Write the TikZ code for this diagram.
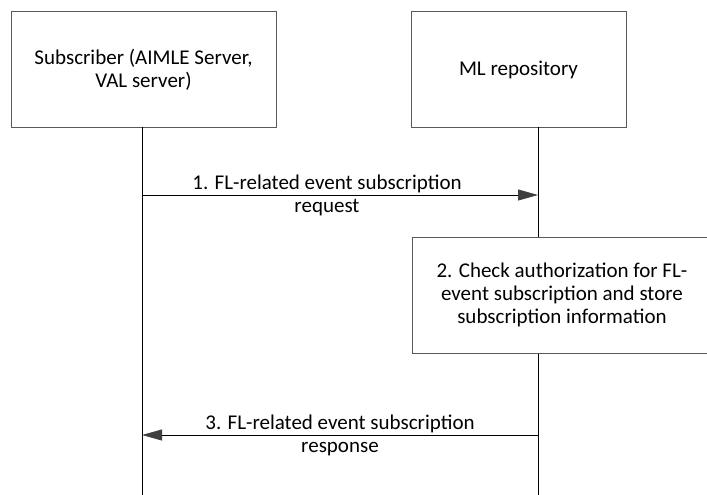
\documentclass[tikz,border=0pt]{standalone}
\usepackage{fontspec}
\setmainfont{Carlito}
\usetikzlibrary{arrows.meta}
\definecolor{boxgray}{RGB}{90,90,90}
\definecolor{headgray}{RGB}{64,64,64}
\tikzset{
  entity/.style={draw=boxgray, line width=1pt, align=center, inner sep=0pt},
  lifeline/.style={draw=black, line width=0.8pt},
  msg/.style={draw=black, line width=0.8pt, -{Triangle[length=20pt,width=11pt,color=headgray]}},
  msglabel/.style={align=center, inner sep=0pt}
}
\begin{document}
\begin{tikzpicture}[x=1pt, y=-1pt, font=\fontsize{21}{23}\selectfont]
  \clip (0,0) rectangle (707,495);
  \node[entity, minimum width=265pt, minimum height=115pt] (subscriber) at (143.5,69.5) {Subscriber (AIMLE Server,\\VAL server)};
  \node[entity, minimum width=215pt, minimum height=115pt] (mlrepo) at (518.5,69.5) {ML repository};
  \node[entity, minimum width=300pt, minimum height=116pt] (check) at (562,295) {2. Check authorization for FL-\\event subscription and store\\subscription information};
  % lifelines
  \coordinate (subtop) at (142,127);
  \coordinate (subbot) at (142,495);
  \coordinate (repotop) at (538,127);
  \coordinate (repobot) at (538,495);
  \draw[lifeline] (subtop) -- (subbot);
  \draw[lifeline] (repotop) -- (check.north -| repotop);
  \draw[lifeline] (check.south -| repotop) -- (repobot);
  % messages
  \coordinate (req1) at (142,195); % subscriber side
  \coordinate (req2) at (538,195); % repository side
  \coordinate (resp1) at (538,435);
  \coordinate (resp2) at (142,435);
  \draw[msg] (req1) -- (req2);
  \draw[msg] (resp1) -- (resp2);
  \node[msglabel] (reqtext) at (327,195) {1. FL-related event subscription\\request};
  \node[msglabel] (resptext) at (340,435) {3. FL-related event subscription\\response};
\end{tikzpicture}
\end{document}
